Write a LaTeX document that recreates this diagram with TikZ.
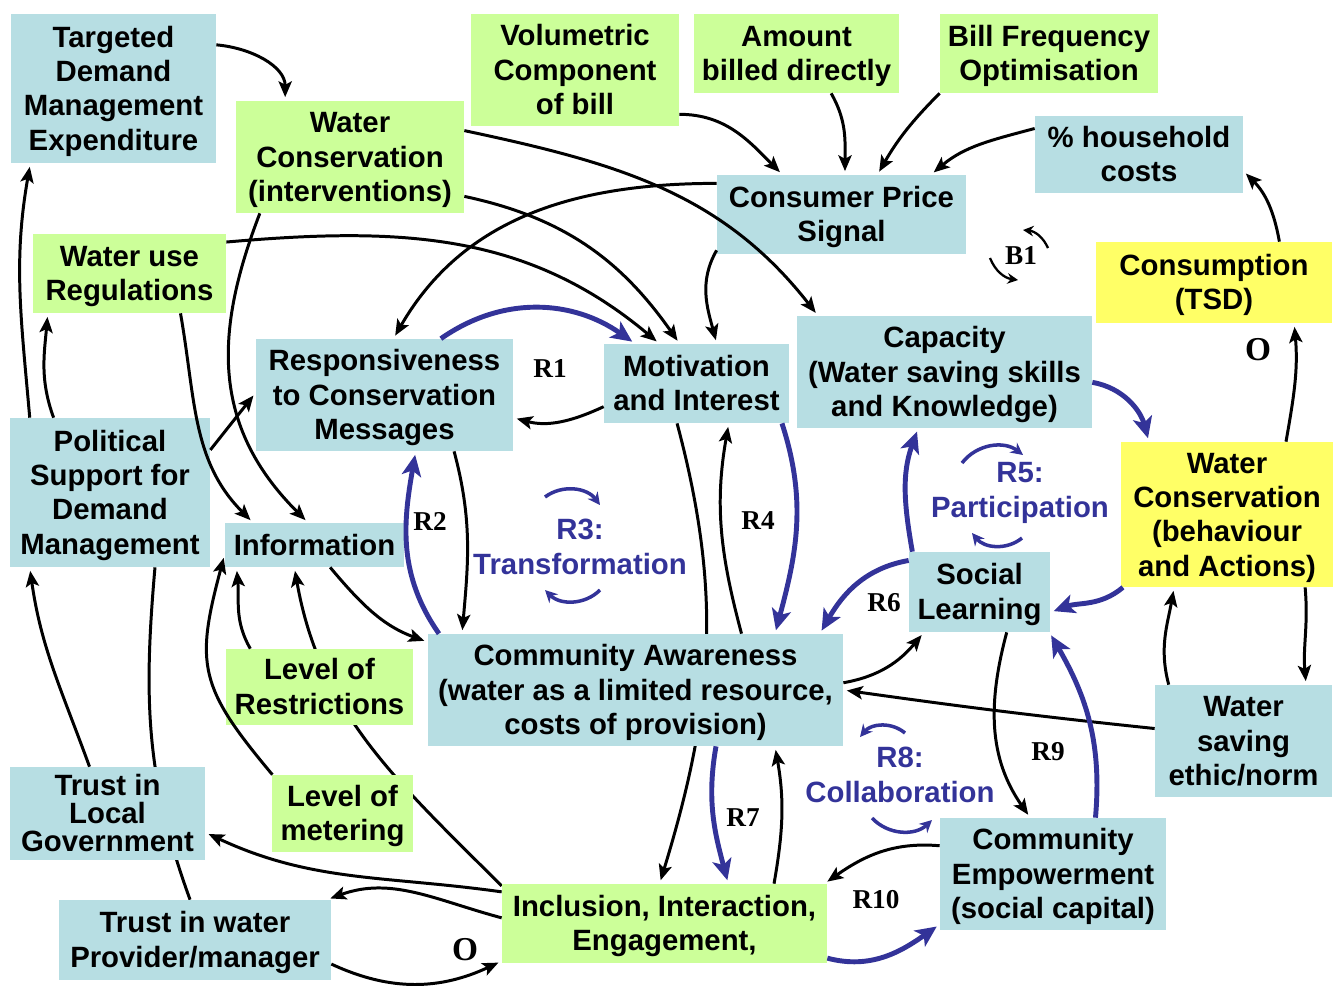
\documentclass[tikz,border=0pt]{standalone}
\usepackage{fontspec}
\setmainfont{Liberation Sans}
\newfontfamily\labfont{Liberation Serif}
\usetikzlibrary{arrows.meta,backgrounds}
\definecolor{boxblue}{RGB}{183,222,227}
\definecolor{boxgreen}{RGB}{204,255,153}
\definecolor{boxyellow}{RGB}{255,255,102}
\definecolor{loopblue}{RGB}{51,51,153}
\newcommand\ts{\rule{0pt}{15.1pt}}
\newcommand\bs{\rule[-3.5pt]{0pt}{3.5pt}}
\tikzset{
  cell/.style={inner sep=0pt, align=center, font=\fontsize{16.7}{19.6}\selectfont\bfseries},
  bluecell/.style={cell, fill=boxblue},
  greencell/.style={cell, fill=boxgreen},
  yellowcell/.style={cell, fill=boxyellow},
  sz/.style 2 args={minimum width=#1*0.02cm, minimum height=#2*0.02cm},
  ar/.style={line width=1.7pt, -{Stealth[length=9pt,width=7.5pt,inset=2pt]}, shorten >=2pt},
  bar/.style={line width=2.8pt, loopblue, -{Stealth[length=12pt,width=11pt,inset=3pt]}, shorten >=2pt},
  rlab/.style={font=\labfont\fontsize{15.5}{18}\selectfont\bfseries},
  olab/.style={font=\labfont\fontsize{19}{22}\selectfont\bfseries},
  looplab/.style={text=loopblue, align=center, font=\fontsize{16.7}{19.6}\selectfont\bfseries},
  minor/.style={line width=2pt, loopblue, -{Stealth[length=7pt,width=7pt]}},
  minorb/.style={line width=1.3pt, black, -{Stealth[length=6pt,width=6pt]}}
}
\begin{document}
\begin{tikzpicture}[x=0.02cm,y=0.02cm]
\useasboundingbox (0,0) rectangle (1338,-985);
\node[bluecell, sz={205}{149}] (tdme) at (113.5,-88.5) {\ts Targeted\\Demand\\Management\\Expenditure\bs};
\node[greencell, sz={228}{112}] (wci) at (350,-157) {\ts Water\\Conservation\\(interventions)\bs};
\node[greencell, sz={208}{112}] (vcb) at (575,-70) {\ts Volumetric\\Component\\of bill\bs};
\node[greencell, sz={205}{79}] (abd) at (796.5,-53.5) {\ts Amount\\billed directly\bs};
\node[greencell, sz={218}{79}] (bfo) at (1049,-53.5) {\ts Bill Frequency\\Optimisation\bs};
\node[bluecell, sz={208}{77}] (hhc) at (1139,-154.5) {\ts\% household\\costs\bs};
\node[bluecell, sz={249}{79}] (cps) at (841.5,-214.5) {\ts Consumer Price\\Signal\bs};
\node[yellowcell, sz={236}{81}] (tsd) at (1214,-282.5) {\ts Consumption\\(TSD)\bs};
\node[greencell, sz={193}{79}] (wur) at (129.5,-273.5) {\ts Water use\\Regulations\bs};
\node[bluecell, sz={257}{112}] (rcm) at (384.5,-395) {\ts Responsiveness\\to Conservation\\Messages\bs};
\node[bluecell, sz={185}{79}] (mi) at (696.5,-383.5) {\ts Motivation\\and Interest\bs};
\node[bluecell, sz={295}{112}] (cap) at (944.5,-372) {\ts Capacity\\(Water saving skills\\and Knowledge)\bs};
\node[bluecell, sz={200}{149}] (psdm) at (110,-492.5) {\ts Political\\Support for\\Demand\\Management\bs};
\node[bluecell, sz={179}{44}] (info) at (314.5,-545) {\ts Information\bs};
\node[yellowcell, sz={212}{145}] (wcba) at (1227,-514.5) {\ts Water\\Conservation\\(behaviour\\and Actions)\bs};
\node[bluecell, sz={141}{80}] (sl) at (979.5,-592) {\ts Social\\Learning\bs};
\node[bluecell, sz={415}{112}] (ca) at (635.5,-690) {\ts Community Awareness\\(water as a limited resource,\\costs of provision)\bs};
\node[greencell, sz={187}{76}] (lor) at (319.5,-687) {\ts Level of\\Restrictions\bs};
\node[bluecell, sz={177}{112}] (wse) at (1243.5,-741) {\ts Water\\saving\\ethic/norm\bs};
\node[bluecell, sz={195}{93}, font=\fontsize{16.7}{15.9}\selectfont\bfseries] (tlg) at (107.5,-813.5) {\ts Trust in\\Local\\Government\bs};
\node[greencell, sz={141}{77}] (lom) at (342.5,-813.5) {\ts Level of\\metering\bs};
\node[bluecell, sz={226}{112}] (ce) at (1053,-874) {\ts Community\\Empowerment\\(social capital)\bs};
\node[greencell, sz={325}{79}] (iie) at (664.5,-923.5) {\ts Inclusion, Interaction,\\Engagement,\bs};
\node[bluecell, sz={272}{80}] (twp) at (195,-940) {\ts Trust in water\\Provider/manager\bs};

\node[rlab] (r1) at (550,-368) {R1};
\node[rlab] (r2) at (430,-521) {R2};
\node[rlab] (r4) at (758,-521) {R4};
\node[rlab] (r6) at (884,-603) {R6};
\node[rlab] (r7) at (743,-818) {R7};
\node[rlab] (r9) at (1048,-752) {R9};
\node[rlab] (r10) at (876,-900) {R10};
\node[rlab] (b1) at (1021,-256) {B1};
\node[olab] (o1) at (1258,-350) {O};
\node[olab] (o2) at (465,-950) {O};
\node[looplab] (r3) at (580,-547) {R3:\\Transformation};
\node[looplab] (r5) at (1020,-493) {R5:\\Participation};
\node[looplab] (r8) at (900,-775) {R8:\\Collaboration};

\draw[ar] (tdme.23) to[out=-5,in=90] (wci.139);
\draw[ar] (psdm.137) to[out=95,in=-100] (tdme.-138);
\draw[ar] (psdm.127) to[out=110,in=-95] (wur.-154);
\draw[ar] (psdm.23) -- (rcm.179);
\draw[ar] (wur.-38) to[out=-80,in=135] (info.160);
\draw[ar] (wci.-148) .. controls (215,-330) and (210,-425) .. (info.106);
\draw[ar] (wur.18) to[out=5,in=140] (mi.133);
\draw[ar] (wci.-19) to[out=-12,in=125] (mi.113);
\draw[ar] (cps.-164) to[out=-120,in=105] (mi.63);
\draw[ar] (wci.13) to[out=-12,in=128] (cap.156);
\draw[ar] (cps.166) to[out=180,in=60] (rcm.81);
\draw[ar] (vcb.-23) to[out=0,in=135] (cps.146);
\draw[ar] (abd.-49) to[out=-60,in=90] (cps.85);
\draw[ar] (bfo.-160) to[out=-135,in=60] (cps.48);
\draw[ar] (hhc.166) to[out=195,in=40] (cps.24);
\draw[ar] (tsd.32) to[out=100,in=-45] (hhc.-9);
\draw[ar] (wcba.51) to[out=80,in=-85] (tsd.-27);
\draw[ar] (mi.-166) to[out=-155,in=-15] (rcm.-10);
\draw[ar] (rcm.-39) to[out=-75,in=85] (ca.162);
\draw[ar] (info.-55) to[out=-50,in=160] (ca.167);
\draw[ar] (lor.151) to[out=120,in=-85] (info.-164);
\draw[ar] (lom.151) to[out=130,in=-105,looseness=1.3] (info.-174);
\draw[ar] (tlg.111) to[out=110,in=-82] (psdm.-137);
\draw[ar] (iie.169) to[out=172,in=-25] (tlg.-11);
\draw[ar] (iie.178) to[out=165,in=20] (twp.17);
\draw[ar] (twp.-10) to[out=-25,in=-155] (iie.-167);
\draw[ar] (ca.28) to[out=105,in=-100] (mi.-51);
\draw[ar] (iie.20) to[out=80,in=-80] (ca.-22);
\draw[ar] (ce.166) to[out=175,in=35] (iie.14);
\draw[ar] (sl.-56) to[out=-105,in=125] (ce.112);
\draw[ar] (wse.172) to[out=174,in=-8] (ca.0);
\draw[ar] (ca.2) to[out=10,in=-130] (sl.-144);
\draw[ar] (wcba.-43) to[out=-85,in=95] (wse.42);
\draw[ar] (wse.143) to[out=105,in=-100] (wcba.-126);

\draw[bar] (rcm.45) to[out=35,in=145] (mi.147);
\draw[bar] (ca.164) to[out=125,in=-100] (rcm.-61);
\draw[bar] (mi.-25) to[out=-72,in=75] (ca.22);
\draw[bar] (ca.-35) to[out=-100,in=105] (iie.32);
\draw[bar] (iie.-12) to[out=-15,in=-145] (ce.-156);
\draw[bar] (ce.53) to[out=85,in=-60] (sl.-30);
\draw[bar] (sl.156) to[out=190,in=60] (ca.17);
\draw[bar] (sl.149) to[out=100,in=-110] (cap.-115);
\draw[bar] (wcba.-145) to[out=-140,in=20] (sl.-16);
\draw[bar] (cap.-4) to[out=-10,in=105] (wcba.137);

\draw[minor] (545,-497) to[bend left=45] (600,-505);
\draw[minor] (600,-590) to[bend left=45] (545,-590);
\draw[minor] (962,-463) to[bend left=45] (1023,-455);
\draw[minor] (1022,-538) to[bend left=45] (972,-533);
\draw[minor] (905,-733) to[bend right=45] (860,-737);
\draw[minor] (872,-818) to[bend right=45] (932,-820);
\draw[minorb] (1048,-248) to[bend right=30] (1023,-230);
\draw[minorb] (990,-258) to[bend right=30] (1018,-280);

\begin{scope}[on background layer]
\draw[ar] (iie.167) to[out=135,in=-80] (info.-132);
\draw[line width=1.7pt] (psdm.-59) to[out=-95,in=110] (twp.97);
\draw[ar] (mi.-116) to[out=-75,in=73] (iie.97);
\end{scope}
\end{tikzpicture}
\end{document}
